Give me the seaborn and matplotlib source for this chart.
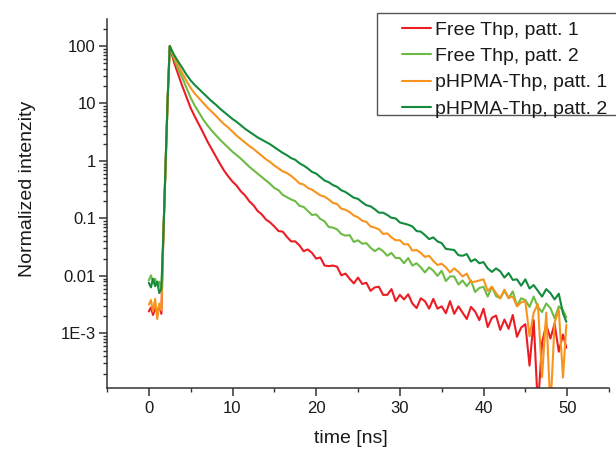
import matplotlib
matplotlib.use("Agg")
import matplotlib.pyplot as plt
from matplotlib.lines import Line2D
from matplotlib.patches import Rectangle
from matplotlib.ticker import LogLocator, NullFormatter, MultipleLocator
import seaborn as sns
import pandas as pd

# time axis [ns] shared by all four decays
time_ns = [0, 0.25, 0.5, 0.75, 1.0, 1.25, 1.5, 1.75, 2.0, 2.25, 2.5,
           3.0, 3.5, 4.0, 4.5, 5.0, 5.5, 6.0, 6.5, 7.0, 7.5, 8.0, 8.5, 9.0, 9.5,
           10.0, 10.5, 11.0, 11.5, 12.0, 12.5, 13.0, 13.5, 14.0, 14.5,
           15.0, 15.5, 16.0, 16.5, 17.0, 17.5, 18.0, 18.5, 19.0, 19.5,
           20.0, 20.5, 21.0, 21.5, 22.0, 22.5, 23.0, 23.5, 24.0, 24.5,
           25.0, 25.5, 26.0, 26.5, 27.0, 27.5, 28.0, 28.5, 29.0, 29.5,
           30.0, 30.5, 31.0, 31.5, 32.0, 32.5, 33.0, 33.5, 34.0, 34.5,
           35.0, 35.5, 36.0, 36.5, 37.0, 37.5, 38.0, 38.5, 39.0, 39.5,
           40.0, 40.5, 41.0, 41.5, 42.0, 42.5, 43.0, 43.5, 44.0, 44.5,
           45.0, 45.5, 46.0, 46.5, 47.0, 47.5, 48.0, 48.5, 49.0, 49.5, 49.9]

# log10 of normalized intensity
free_1_log = [-2.62, -2.55, -2.68, -2.57, -2.63, -2.52, -2.66, -1.25, -0.08, 1.08, 2.0,
              1.72, 1.51, 1.30, 1.11, 0.92, 0.77, 0.63, 0.49, 0.34, 0.21, 0.08, -0.05, -0.17, -0.27,
              -0.36, -0.43, -0.53, -0.60, -0.70, -0.77, -0.87, -0.93, -1.02, -1.07,
              -1.14, -1.22, -1.23, -1.32, -1.40, -1.40, -1.47, -1.57, -1.54, -1.60,
              -1.70, -1.68, -1.82, -1.83, -1.82, -1.84, -1.99, -1.96, -2.05, -2.13,
              -2.03, -2.14, -2.12, -2.26, -2.20, -2.19, -2.33, -2.33, -2.23, -2.44,
              -2.33, -2.41, -2.32, -2.48, -2.56, -2.39, -2.44, -2.57, -2.40, -2.57,
              -2.53, -2.65, -2.44, -2.66, -2.53, -2.64, -2.75, -2.54, -2.62, -2.77,
              -2.57, -2.89, -2.73, -2.69, -2.94, -2.76, -2.92, -2.68, -3.06, -2.90,
              -2.84, -3.56, -2.77, -4.30, -3.16, -2.85, -3.09, -2.83, -3.32, -3.02, -3.25]

free_2_log = [-2.08, -1.99, -2.12, -2.05, -2.15, -2.10, -2.25, -1.22, -0.07, 1.08, 2.0,
              1.78, 1.60, 1.45, 1.27, 1.10, 0.96, 0.84, 0.72, 0.62, 0.53, 0.45, 0.37, 0.30, 0.23,
              0.16, 0.10, 0.04, -0.03, -0.10, -0.16, -0.22, -0.28, -0.34, -0.40,
              -0.47, -0.51, -0.59, -0.63, -0.67, -0.70, -0.78, -0.80, -0.87, -0.94,
              -0.93, -1.01, -1.05, -1.15, -1.16, -1.19, -1.27, -1.30, -1.29, -1.41,
              -1.38, -1.44, -1.43, -1.51, -1.57, -1.52, -1.57, -1.65, -1.60, -1.69,
              -1.69, -1.78, -1.69, -1.82, -1.78, -1.85, -1.94, -1.85, -1.91, -2.00,
              -1.91, -2.09, -2.01, -2.01, -2.15, -2.08, -2.18, -2.08, -2.28, -2.21,
              -2.19, -2.36, -2.19, -2.35, -2.39, -2.26, -2.39, -2.27, -2.52, -2.39,
              -2.42, -2.54, -2.36, -2.54, -2.63, -2.48, -2.56, -2.74, -2.53, -2.60, -2.72]

phpma_1_log = [-2.50, -2.42, -2.62, -2.40, -2.75, -2.48, -2.60, -1.24, -0.08, 1.08, 2.0,
               1.82, 1.67, 1.53, 1.39, 1.27, 1.17, 1.09, 1.01, 0.93, 0.86, 0.79, 0.71, 0.64, 0.58,
               0.51, 0.44, 0.38, 0.32, 0.26, 0.21, 0.15, 0.09, 0.03, -0.02,
               -0.08, -0.13, -0.18, -0.21, -0.26, -0.32, -0.39, -0.41, -0.47, -0.50,
               -0.55, -0.60, -0.62, -0.67, -0.73, -0.75, -0.83, -0.85, -0.89, -0.95,
               -0.98, -1.04, -1.06, -1.14, -1.16, -1.19, -1.27, -1.26, -1.33, -1.38,
               -1.38, -1.45, -1.45, -1.56, -1.55, -1.60, -1.67, -1.65, -1.74, -1.81,
               -1.79, -1.85, -1.94, -1.87, -1.93, -2.01, -1.96, -2.11, -2.10, -2.08,
               -2.06, -2.26, -2.19, -2.30, -2.39, -2.24, -2.38, -2.36, -2.53, -2.46,
               -2.44, -3.05, -2.64, -2.49, -3.76, -2.64, -4.32, -2.81, -2.59, -3.77, -2.85]

phpma_2_log = [-2.12, -2.20, -2.05, -2.18, -2.10, -2.30, -2.22, -1.22, -0.07, 1.08, 2.0,
               1.85, 1.73, 1.62, 1.50, 1.40, 1.32, 1.25, 1.18, 1.11, 1.04, 0.98, 0.91, 0.85, 0.79,
               0.73, 0.68, 0.62, 0.56, 0.51, 0.46, 0.41, 0.37, 0.33, 0.29,
               0.24, 0.19, 0.14, 0.10, 0.05, 0.02, -0.04, -0.08, -0.13, -0.19,
               -0.22, -0.28, -0.34, -0.37, -0.42, -0.45, -0.51, -0.54, -0.59, -0.64,
               -0.66, -0.72, -0.77, -0.79, -0.84, -0.90, -0.90, -0.94, -0.99, -1.00,
               -1.07, -1.09, -1.11, -1.14, -1.22, -1.23, -1.29, -1.36, -1.33, -1.40,
               -1.43, -1.53, -1.54, -1.55, -1.64, -1.65, -1.62, -1.75, -1.71, -1.78,
               -1.76, -1.87, -1.93, -1.87, -1.92, -2.03, -1.95, -2.07, -2.06, -2.17,
               -2.06, -2.22, -2.16, -2.26, -2.36, -2.23, -2.30, -2.41, -2.31, -2.65, -2.80]

labels = ["Free Thp, patt. 1", "Free Thp, patt. 2", "pHPMA-Thp, patt. 1", "pHPMA-Thp, patt. 2"]
colors = ["#ec1c24", "#6dbb45", "#f7941d", "#138a3c"]

series = dict(zip(labels, [free_1_log, free_2_log, phpma_1_log, phpma_2_log]))
frames = []
for name, logs in series.items():
    frames.append(pd.DataFrame({"time": time_ns,
                                "intensity": [10 ** v for v in logs],
                                "sample": name}))
df = pd.concat(frames, ignore_index=True)

sns.set_style("ticks")
plt.rcParams["font.family"] = ["Liberation Sans", "DejaVu Sans"]
text_col = "#1a1a1a"

fig = plt.figure(figsize=(6.16, 4.5), dpi=100)
ax = fig.add_axes([107 / 616, 1 - 388 / 450, 502 / 616, 369 / 450])

sns.lineplot(data=df, x="time", y="intensity", hue="sample", hue_order=labels,
             palette=dict(zip(labels, colors)), estimator=None, sort=False,
             linewidth=1.5, legend=False, ax=ax)

ax.set_yscale("log")
ax.set_ylim(1.12e-4, 295)
ax.set_xlim(-5, 55)
ax.set_yticks([1e-3, 1e-2, 0.1, 1, 10, 100])
ax.set_yticklabels(["1E-3", "0.01", "0.1", "1", "10", "100"])
ax.yaxis.set_minor_locator(LogLocator(base=10, subs=[2, 3, 4, 5, 6, 7, 8, 9], numticks=20))
ax.yaxis.set_minor_formatter(NullFormatter())
ax.set_xticks([0, 10, 20, 30, 40, 50])
ax.xaxis.set_minor_locator(MultipleLocator(5))

sns.despine(ax=ax)
for side in ["left", "bottom"]:
    ax.spines[side].set_linewidth(1.1)
    ax.spines[side].set_color("#333333")
ax.tick_params(which="major", length=5.5, width=1.1, color="#333333",
               labelsize=12, labelcolor=text_col, pad=2.5)
ax.tick_params(which="minor", length=3, width=1.0, color="#333333")
ax.tick_params(axis="x", which="major", pad=4)

ax.set_xlabel("time [ns]", fontsize=14, color=text_col)
ax.set_ylabel("Normalized intenzity", fontsize=14, color=text_col)
ax.xaxis.set_label_coords(0.486, -0.113)
ax.yaxis.set_label_coords(-0.142, 0.54)

# legend: box drawn on the figure, entries inside it
fig.patches.append(Rectangle((377 / 616, 1 - 115 / 450), 245 / 616, 102 / 450,
                             transform=fig.transFigure, fill=False,
                             edgecolor="#555555", linewidth=1.0))
handles = [Line2D([], [], color=c, linewidth=1.5) for c in colors]
fig.legend(handles, labels, loc="upper left", bbox_to_anchor=(402 / 616, 1 - 21 / 450),
           frameon=False, fontsize=14, handlelength=1.5, handletextpad=0.2,
           labelspacing=0.45, borderpad=0, borderaxespad=0, labelcolor=text_col)

fig.savefig("out.png", dpi=100, facecolor="white")
